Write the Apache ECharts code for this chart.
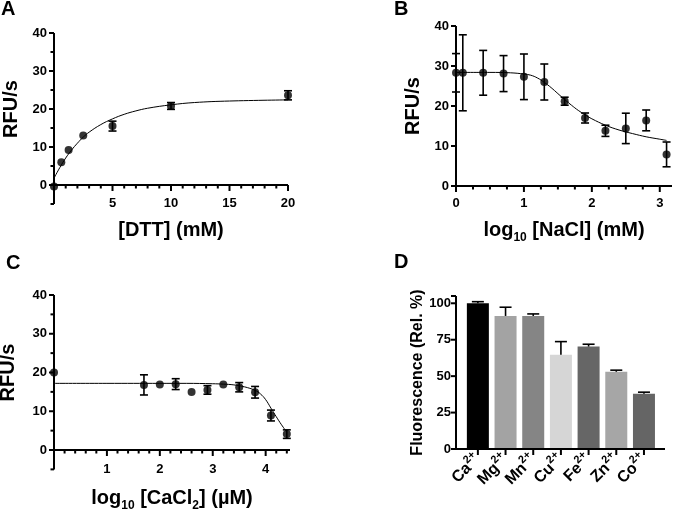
<!DOCTYPE html>
<html lang="en">
  <head>
    <meta charset="UTF-8" />
    <title>Panels A-D</title>
    <script src="https://cdn.jsdelivr.net/npm/echarts@6/dist/echarts.min.js"></script>
  </head>
  <body style="margin: 0">
    <div id="main" style="width: 674px; height: 511px"></div>
    <script type="text/javascript">
      // A: DTT
      const aX = [0, 0.625, 1.25, 2.5, 5, 10, 20];
      const aY = [-0.4, 6.0, 9.2, 13.0, 15.5, 20.8, 23.6];
      const aErr = [0, 0, 0, 0, 1.3, 0.9, 1.2];
      const aFitX = [0, 0.5, 1, 1.5, 2, 2.5, 3, 4, 5, 6, 7, 8, 10, 12, 15, 20];
      const aFitY = [1.8, 4.6, 7.1, 9.2, 11.0, 12.6, 13.9, 15.9, 17.4, 18.6, 19.5, 20.2, 21.1, 21.7, 22.1, 22.4];

      // B: log10 NaCl
      const bX = [0, 0.1, 0.4, 0.7, 1.0, 1.3, 1.6, 1.9, 2.2, 2.5, 2.8, 3.1];
      const bY = [28.3, 28.3, 28.3, 28.1, 27.3, 26.0, 21.2, 17.0, 13.8, 14.4, 16.4, 7.9];
      const bErr = [4.8, 9.5, 5.6, 4.5, 5.7, 4.5, 1.0, 1.25, 1.4, 3.8, 2.6, 3.1];
      const bFitX = [0, 0.5, 0.8, 1.0, 1.1, 1.2, 1.3, 1.4, 1.5, 1.6, 1.7, 1.8, 1.9, 2.0, 2.2, 2.4, 2.6, 2.8, 3.0, 3.1];
      const bFitY = [28.4, 28.4, 28.3, 28.0, 27.7, 27.0, 25.9, 24.6, 23.1, 21.6, 20.2, 18.9, 17.8, 16.8, 15.2, 14.0, 13.1, 12.3, 11.7, 11.4];

      // C: log10 CaCl2
      const cX = [0, 1.7, 2.0, 2.3, 2.6, 2.9, 3.2, 3.5, 3.8, 4.1, 4.4];
      const cY = [20.0, 16.8, 16.9, 17.0, 15.0, 15.5, 16.9, 16.2, 14.9, 8.9, 4.1];
      const cErr = [0, 2.6, 0, 1.4, 0, 1.1, 0, 1.2, 1.5, 1.4, 1.1];
      const cFitX = [0, 1, 2, 2.5, 3, 3.2, 3.4, 3.6, 3.8, 3.9, 4.0, 4.1, 4.2, 4.3, 4.4];
      const cFitY = [17.2, 17.2, 17.2, 17.2, 17.1, 17.0, 16.8, 16.3, 15.4, 14.5, 13.0, 10.8, 8.6, 6.5, 4.6];

      // D: metal ions (bar n sits at x = n, 1-based)
      const metals = ["Ca", "Mg", "Mn", "Cu", "Fe", "Zn", "Co"];
      const dVal = [100, 91.3, 91.3, 64.6, 70.3, 53.0, 37.9];
      const dErr = [1.1, 6.0, 1.4, 9.1, 1.6, 1.1, 1.1];
      const dColors = ["#000000", "#a3a3a3", "#858585", "#d6d6d6", "#666666", "#a6a6a6", "#656565"];

      // tick positions
      const rfuTicks = [0, 10, 20, 30, 40];
      const rfuMinor = [-5, 5, 15, 25, 35];
      const aTicksX = [5, 10, 15, 20];
      const aMinorX = [1, 2, 3, 4, 6, 7, 8, 9, 11, 12, 13, 14, 16, 17, 18, 19];
      const bTicksX = [0, 1, 2, 3];
      const bMinorX = [0.25, 0.5, 0.75, 1.25, 1.5, 1.75, 2.25, 2.5, 2.75];
      const cTicksX = [1, 2, 3, 4];
      const cMinorX = [0.2, 0.4, 0.6, 0.8, 1.2, 1.4, 1.6, 1.8, 2.2, 2.4, 2.6, 2.8, 3.2, 3.4, 3.6, 3.8, 4.2, 4.4];
      const dTicksY = [0, 25, 50, 75, 100];
      const dTicksX = [1, 2, 3, 4, 5, 6, 7];

      const FONT = "Liberation Sans";
      let myChart = echarts.init(document.getElementById("main"));

      const lab = () => ({ color: "#000", fontFamily: FONT, fontWeight: "bold", fontSize: 13 });
      const noSplit = () => ({ lineStyle: { color: "rgba(0,0,0,0)", opacity: 0 } });
      const xNameStyle = () => ({ color: "#000", fontFamily: FONT, fontWeight: "bold", fontSize: 20, lineHeight: 28,
        rich: { sub: { fontFamily: FONT, fontWeight: "bold", fontSize: 12, verticalAlign: "bottom", lineHeight: 12 } } });
      const yNameStyle = (size) => ({ color: "#000", fontFamily: FONT, fontWeight: "bold", fontSize: size });

      // axes carry labels and names; their lines and ticks are drawn by the frame series below
      function texts(grid, min, max, labels, margin, name, gap, nameStyle, rotate) {
        const a = { gridIndex: grid, type: "value", min: min, max: max,
          axisLine: { show: false }, axisTick: { show: false }, splitLine: noSplit(),
          axisLabel: Object.assign({ margin: margin, customValues: labels }, lab()),
          name: name, nameLocation: "middle", nameGap: gap, nameTextStyle: nameStyle };
        if (rotate) a.nameRotate = 90;
        return a;
      }

      const xD = texts(3, 0.21, 7.76, dTicksX, 8, "", 0, xNameStyle());
      xD.axisLabel = {
        customValues: dTicksX, rotate: 45, margin: 8,
        formatter: (v) => "{b|" + metals[Math.round(v) - 1] + "}{sup|2+}",
        rich: {
          b: { fontFamily: FONT, fontWeight: "bold", fontSize: 16, color: "#000", lineHeight: 22 },
          sup: { fontFamily: FONT, fontWeight: "bold", fontSize: 11, color: "#000", verticalAlign: "top", lineHeight: 12 }
        }
      };

      const xAxes = [
        texts(0, 0, 20, aTicksX, 12, "[DTT] (mM)", 31, xNameStyle()),
        texts(1, 0, 3.18, bTicksX, 11, "log{sub|10} [NaCl] (mM)", 30, xNameStyle()),
        texts(2, 0, 4.46, cTicksX, 13, "log{sub|10} [CaCl{sub|2}] (µM)", 34, xNameStyle()),
        xD
      ];
      const yAxes = [
        texts(0, 0, 40, rfuTicks, 7, "RFU/s", 33, yNameStyle(20), true),
        texts(1, 0, 40, rfuTicks, 7, "RFU/s", 33, yNameStyle(20), true),
        texts(2, 0, 40, rfuTicks, 7, "RFU/s", 36, yNameStyle(20), true),
        texts(3, 0, 105, dTicksY, 5, "Fluorescence (Rel. %)", 30, yNameStyle(16), true)
      ];

      const series = [];

      function errorBars(idx, xs, ys, errs) {
        return {
          type: "custom", xAxisIndex: idx, yAxisIndex: idx, z: 3, clip: false,
          data: xs.map((x, i) => [x, ys[i] - errs[i], ys[i] + errs[i], errs[i]]),
          renderItem: function (params, api) {
            if (api.value(3) <= 0) return null;
            const top = api.coord([api.value(0), api.value(2)]);
            const bot = api.coord([api.value(0), api.value(1)]);
            const st = { stroke: "#000", lineWidth: 1.6 };
            return { type: "group", children: [
              { type: "line", shape: { x1: top[0], y1: top[1], x2: bot[0], y2: bot[1] }, style: st },
              { type: "line", shape: { x1: top[0] - 4, y1: top[1], x2: top[0] + 4, y2: top[1] }, style: st },
              { type: "line", shape: { x1: bot[0] - 4, y1: bot[1], x2: bot[0] + 4, y2: bot[1] }, style: st }
            ] };
          }
        };
      }
      function pointsAndFit(idx, xs, ys, errs, fx, fy) {
        series.push({
          type: "line", xAxisIndex: idx, yAxisIndex: idx, smooth: 0.4, showSymbol: false, silent: true, z: 2,
          data: fx.map((x, i) => [x, fy[i]]), lineStyle: { color: "#000", width: 1 }
        });
        series.push(errorBars(idx, xs, ys, errs));
        series.push({
          type: "scatter", xAxisIndex: idx, yAxisIndex: idx, symbolSize: 8, z: 4, clip: false,
          data: xs.map((x, i) => [x, ys[i]]), itemStyle: { color: "#000" }
        });
      }
      pointsAndFit(0, aX, aY, aErr, aFitX, aFitY);
      pointsAndFit(1, bX, bY, bErr, bFitX, bFitY);
      pointsAndFit(2, cX, cY, cErr, cFitX, cFitY);

      series.push({
        type: "bar", xAxisIndex: 3, yAxisIndex: 3, barWidth: 22, z: 2,
        data: metals.map((m, i) => ({ value: [i + 1, dVal[i]], itemStyle: { color: dColors[i] } }))
      });
      series.push({
        type: "custom", xAxisIndex: 3, yAxisIndex: 3, z: 3,
        data: metals.map((m, i) => [i + 1, dVal[i], dVal[i] + dErr[i]]),
        renderItem: function (params, api) {
          const top = api.coord([api.value(0), api.value(2)]);
          const bot = api.coord([api.value(0), api.value(1)]);
          const st = { stroke: "#000", lineWidth: 1.6 };
          return { type: "group", children: [
            { type: "line", shape: { x1: top[0], y1: top[1], x2: bot[0], y2: bot[1] }, style: st },
            { type: "line", shape: { x1: top[0] - 6, y1: top[1], x2: top[0] + 6, y2: top[1] }, style: st }
          ] };
        }
      });

      // axis lines and ticks, placed through the axes' own coordinates
      const seg = (p, q) => ({ type: "line", shape: { x1: p[0], y1: p[1], x2: q[0], y2: q[1] },
        style: { stroke: "#000", lineWidth: 2, lineCap: "butt" } });
      function frame(idx, f) {
        series.push({
          type: "custom", xAxisIndex: idx, yAxisIndex: idx, z: 3, clip: false, silent: true,
          data: [[f.x[0], 0]],
          renderItem: function (params, api) {
            const ch = [];
            ch.push(seg(api.coord([f.x[0], f.y[0]]), api.coord([f.x[0], f.y[1]])));
            const o = api.coord([f.x[0], 0]);
            ch.push(seg([o[0] - 1, o[1]], api.coord([f.x[1], 0])));
            const xt = (vals, len) => vals.forEach((v) => { const p = api.coord([v, 0]); ch.push(seg(p, [p[0], p[1] + len])); });
            const yt = (vals, len) => vals.forEach((v) => { const p = api.coord([f.x[0], v]); ch.push(seg(p, [p[0] - len, p[1]])); });
            xt(f.xMajor, 6); xt(f.xMinor, 3.5);
            yt(f.yMajor, 5); yt(f.yMinor, 3.5);
            return { type: "group", children: ch };
          }
        });
      }
      frame(0, { x: [0, 20], y: [-5, 40], xMajor: aTicksX, xMinor: aMinorX, yMajor: rfuTicks, yMinor: rfuMinor });
      frame(1, { x: [0, 3.18], y: [0, 40], xMajor: bTicksX, xMinor: bMinorX, yMajor: rfuTicks, yMinor: [] });
      frame(2, { x: [0, 4.46], y: [-5, 40], xMajor: cTicksX, xMinor: cMinorX, yMajor: rfuTicks, yMinor: rfuMinor });
      frame(3, { x: [0.21, 7.76], y: [0, 105], xMajor: dTicksX, xMinor: [], yMajor: dTicksY.concat([105]), yMinor: [] });

      const letter = { color: "#000", fontFamily: FONT, fontWeight: "bold", fontSize: 20 };
      const gridBase = { containLabel: false, outerBoundsMode: "none" };
      let options = {
        animation: false,
        title: [
          { text: "A", left: 1, top: -1, padding: 0, textStyle: letter },
          { text: "B", left: 394, top: -1, padding: 0, textStyle: letter },
          { text: "C", left: 6, top: 253, padding: 0, textStyle: letter },
          { text: "D", left: 394, top: 252, padding: 0, textStyle: letter }
        ],
        grid: [
          Object.assign({ left: 54, top: 33, width: 234, height: 152 }, gridBase),
          Object.assign({ left: 456, top: 26, width: 216, height: 160 }, gridBase),
          Object.assign({ left: 54, top: 295, width: 236, height: 155 }, gridBase),
          Object.assign({ left: 456, top: 296, width: 209, height: 153 }, gridBase)
        ],
        xAxis: xAxes,
        yAxis: yAxes,
        series: series
      };
      myChart.setOption(options);
    </script>
  </body>
</html>
